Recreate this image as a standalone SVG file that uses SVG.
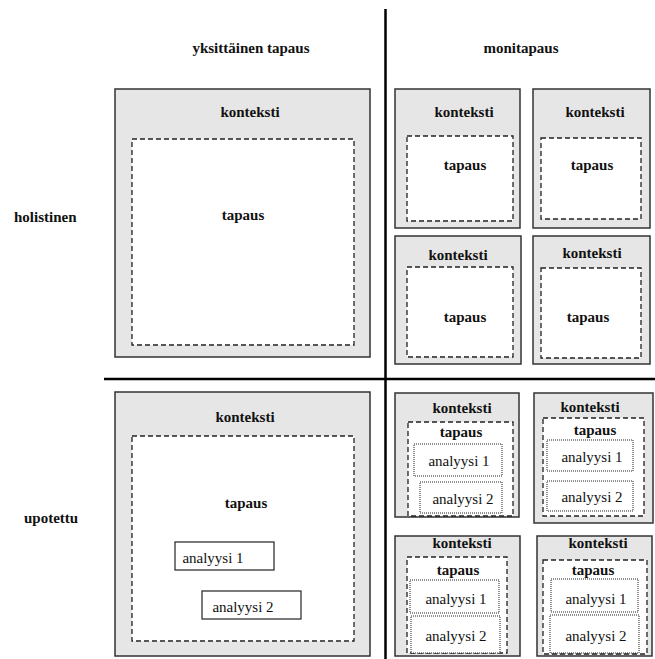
<svg xmlns="http://www.w3.org/2000/svg" width="655" height="659" viewBox="0 0 655 659">
<style>
text{font-family:'Liberation Serif','Times New Roman',Tinos,'Nimbus Roman',serif;font-size:15px;fill:#111}
.ctx{fill:#e6e6e6;stroke:#333;stroke-width:1.5}
.case{fill:#fff;stroke:#222;stroke-width:1.3;stroke-dasharray:5,3}
.an{fill:#fff;stroke:#222;stroke-width:1.2}
.dot{fill:#fff;stroke:#222;stroke-width:1;stroke-dasharray:1,1}
.b{font-weight:bold;text-anchor:middle}
.r{text-anchor:middle}
.h{font-weight:bold}
</style>
<rect width="655" height="659" fill="#fff"/>
<g id="connectors">
<line x1="385.5" y1="9" x2="385.5" y2="659" stroke="#000" stroke-width="2.5"/>
<line x1="104" y1="379" x2="655" y2="379" stroke="#000" stroke-width="2.5"/>
</g>
<g id="headings" font-family="Liberation Serif, serif">
<text class="b" x="251" y="53">yksittäinen tapaus</text>
<text class="b" x="521" y="53">monitapaus</text>
<text class="h" x="14" y="222">holistinen</text>
<text class="h" x="24" y="523">upotettu</text>
</g>
<g id="single-holistic">
<rect class="ctx" x="115" y="89" width="255" height="268"/>
<text class="b" x="250" y="117">konteksti</text>
<rect class="case" x="132" y="139" width="222" height="206"/>
<text class="b" x="243" y="220">tapaus</text>
</g>
<g id="multi-holistic-1">
<rect class="ctx" x="395" y="89" width="125" height="139"/>
<text class="b" x="464" y="117">konteksti</text>
<rect class="case" x="407" y="136" width="106" height="85"/>
<text class="b" x="465" y="170">tapaus</text>
</g>
<g id="multi-holistic-2">
<rect class="ctx" x="533" y="89" width="117" height="139"/>
<text class="b" x="595" y="117">konteksti</text>
<rect class="case" x="541" y="138" width="100" height="81"/>
<text class="b" x="592" y="170">tapaus</text>
</g>
<g id="multi-holistic-3">
<rect class="ctx" x="395" y="236" width="126" height="128"/>
<text class="b" x="458" y="260">konteksti</text>
<rect class="case" x="407" y="267" width="106" height="90"/>
<text class="b" x="465" y="322">tapaus</text>
</g>
<g id="multi-holistic-4">
<rect class="ctx" x="533" y="236" width="117" height="128"/>
<text class="b" x="592" y="258">konteksti</text>
<rect class="case" x="541" y="268" width="100" height="90"/>
<text class="b" x="588" y="322">tapaus</text>
</g>
<g id="single-embedded">
<rect class="ctx" x="115" y="392" width="255" height="264"/>
<text class="b" x="245" y="422">konteksti</text>
<rect class="case" x="132" y="436" width="222" height="205"/>
<text class="b" x="246" y="508">tapaus</text>
<rect class="an" x="175" y="542" width="99" height="28"/>
<text class="r" x="213" y="563">analyysi 1</text>
<rect class="an" x="202" y="591" width="99" height="28"/>
<text class="r" x="243" y="612">analyysi 2</text>
</g>
<g id="multi-embedded-1">
<rect class="ctx" x="395" y="393" width="124" height="124"/>
<text class="b" x="462" y="413">konteksti</text>
<rect class="case" x="408" y="422" width="105" height="94"/>
<text class="b" x="461" y="437">tapaus</text>
<rect class="dot" x="414" y="444" width="88" height="32"/>
<text class="r" x="459" y="466">analyysi 1</text>
<rect class="dot" x="420" y="482" width="82" height="31"/>
<text class="r" x="463" y="504">analyysi 2</text>
</g>
<g id="multi-embedded-2">
<rect class="ctx" x="534" y="393" width="119" height="130"/>
<text class="b" x="590" y="412">konteksti</text>
<rect class="case" x="543" y="418" width="101" height="98"/>
<text class="b" x="595" y="435">tapaus</text>
<rect class="dot" x="547" y="440" width="86" height="31"/>
<text class="r" x="592" y="462">analyysi 1</text>
<rect class="dot" x="547" y="481" width="86" height="30"/>
<text class="r" x="592" y="502">analyysi 2</text>
</g>
<g id="multi-embedded-3">
<rect class="ctx" x="395" y="536" width="125" height="120"/>
<text class="b" x="462" y="548">konteksti</text>
<rect class="case" x="407" y="557" width="100" height="96"/>
<text class="b" x="458" y="575">tapaus</text>
<rect class="dot" x="410" y="580" width="89" height="33"/>
<text class="r" x="456" y="604">analyysi 1</text>
<rect class="dot" x="411" y="616" width="89" height="37"/>
<text class="r" x="456" y="641">analyysi 2</text>
</g>
<g id="multi-embedded-4">
<rect class="ctx" x="537" y="536" width="115" height="120"/>
<text class="b" x="598" y="548">konteksti</text>
<rect class="case" x="543" y="560" width="104" height="94"/>
<text class="b" x="593" y="575">tapaus</text>
<rect class="dot" x="551" y="579" width="87" height="33"/>
<text class="r" x="596" y="604">analyysi 1</text>
<rect class="dot" x="550" y="615" width="89" height="38"/>
<text class="r" x="596" y="641">analyysi 2</text>
</g>
</svg>
